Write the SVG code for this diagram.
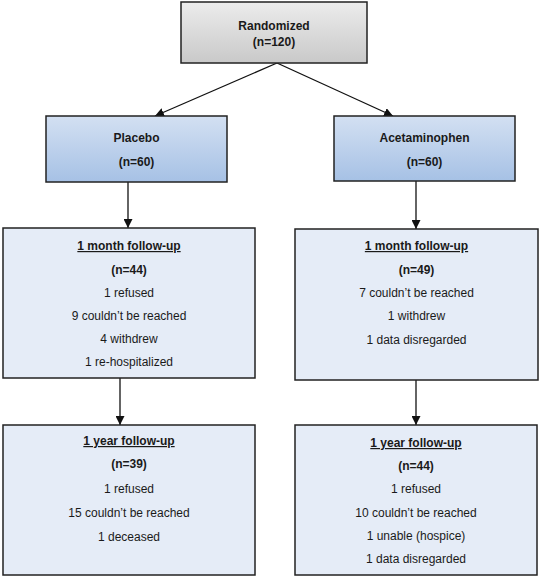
<svg xmlns="http://www.w3.org/2000/svg" width="540" height="578" viewBox="0 0 540 578">
<style>
text{font-family:"Liberation Sans",Arial,sans-serif;fill:#1a1a1a;text-anchor:middle;font-size:12px}
.b{font-weight:bold}
.u{text-decoration:underline}
.box{stroke:#222;stroke-width:1.5}
.fu{fill:#e5ecf7}
.con{stroke:#111;stroke-width:1.3;fill:none;marker-end:url(#ah)}
</style>
<defs>
<linearGradient id="gg" x1="0" y1="0" x2="0" y2="1"><stop offset="0" stop-color="#ececec"/><stop offset="1" stop-color="#c9c9c9"/></linearGradient>
<linearGradient id="bg" x1="0" y1="0" x2="0" y2="1"><stop offset="0" stop-color="#d3e0f2"/><stop offset="1" stop-color="#a6c1e5"/></linearGradient>
<marker id="ah" viewBox="0 0 10 10" refX="10" refY="5" markerWidth="9" markerHeight="9" markerUnits="userSpaceOnUse" orient="auto"><path d="M0,0 L10,5 L0,10 z" fill="#111"/></marker>
</defs>
<g id="connectors">
<line class="con" x1="277" y1="63" x2="155" y2="116"/>
<line class="con" x1="277" y1="63" x2="393" y2="116"/>
<line class="con" x1="128" y1="182" x2="128" y2="228"/>
<line class="con" x1="416" y1="181" x2="416" y2="229"/>
<line class="con" x1="120" y1="378" x2="120" y2="425"/>
<line class="con" x1="416" y1="380" x2="416" y2="425"/>
</g>
<g id="randomized">
<rect class="box" x="181" y="2" width="186" height="61" fill="url(#gg)"/>
<text class="b" x="274" y="29.5">Randomized</text>
<text class="b" x="274" y="46">(n=120)</text>
</g>
<g id="placebo">
<rect class="box" x="46" y="116" width="181" height="66" fill="url(#bg)"/>
<text class="b" x="136.5" y="142">Placebo</text>
<text class="b" x="136.5" y="166">(n=60)</text>
</g>
<g id="acetaminophen">
<rect class="box" x="334" y="116" width="181" height="65" fill="url(#bg)"/>
<text class="b" x="424.5" y="142">Acetaminophen</text>
<text class="b" x="424.5" y="166">(n=60)</text>
</g>
<g id="placebo-1month">
<rect class="box fu" x="3" y="228" width="252" height="150"/>
<text class="b u" x="129" y="250">1 month follow-up</text>
<text class="b" x="129" y="274">(n=44)</text>
<text x="129" y="297">1 refused</text>
<text x="129" y="320">9 couldn’t be reached</text>
<text x="129" y="343">4 withdrew</text>
<text x="129" y="366">1 re-hospitalized</text>
</g>
<g id="acetaminophen-1month">
<rect class="box fu" x="295" y="229" width="243" height="151"/>
<text class="b u" x="416.5" y="250">1 month follow-up</text>
<text class="b" x="416.5" y="274">(n=49)</text>
<text x="416.5" y="297">7 couldn’t be reached</text>
<text x="416.5" y="320">1 withdrew</text>
<text x="416.5" y="344">1 data disregarded</text>
</g>
<g id="placebo-1year">
<rect class="box fu" x="3" y="425" width="252" height="150"/>
<text class="b u" x="129" y="445">1 year follow-up</text>
<text class="b" x="129" y="468">(n=39)</text>
<text x="129" y="493">1 refused</text>
<text x="129" y="517">15 couldn’t be reached</text>
<text x="129" y="541">1 deceased</text>
</g>
<g id="acetaminophen-1year">
<rect class="box fu" x="295" y="425" width="242" height="150"/>
<text class="b u" x="416" y="447">1 year follow-up</text>
<text class="b" x="416" y="470">(n=44)</text>
<text x="416" y="493">1 refused</text>
<text x="416" y="517">10 couldn’t be reached</text>
<text x="416" y="540">1 unable (hospice)</text>
<text x="416" y="563">1 data disregarded</text>
</g>
</svg>
